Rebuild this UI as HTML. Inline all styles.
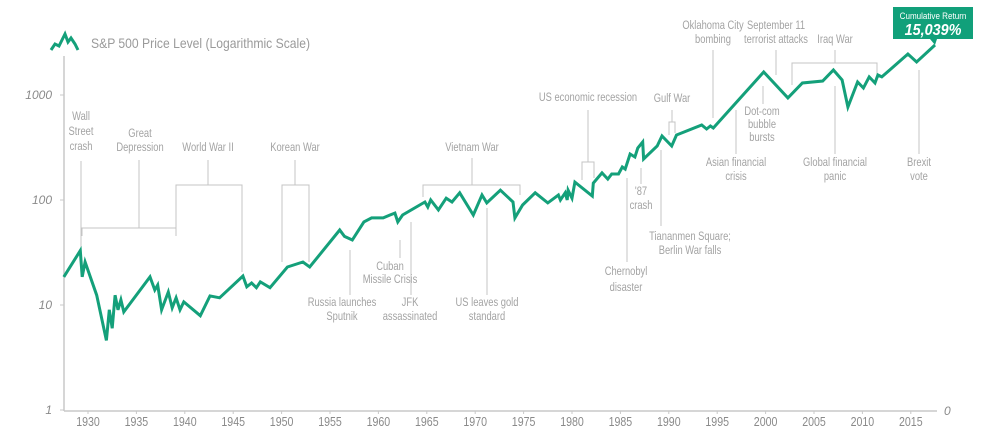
<!DOCTYPE html>
<html><head><meta charset="utf-8"><style>
body{margin:0;background:#fff;}
svg{display:block;font-family:"Liberation Sans Narrow","Liberation Sans",sans-serif;}
.ann{fill:#a3a3a3;font-size:12px;text-anchor:middle;}
.ln{stroke:#c4c4c4;stroke-width:1;fill:none;}
.tk{fill:#8a8a8a;font-size:12px;font-style:italic;}
</style></head><body>
<svg id="chart" width="1000" height="437" viewBox="0 0 1000 437">
<g id="axes"></g>
<g id="annotations"></g>
<g id="series"></g>
<g>
<path d="M51,50 L55,44 L59,46 L62,40 L65,34 L68,42 L71,38 L75,44 L78,50" stroke="#14a07a" stroke-width="3" fill="none"/>
<text transform="translate(91,48) scale(0.9,1)" fill="#9a9a9a" font-size="13.5">S&amp;P 500 Price Level (Logarithmic Scale)</text>
</g>
<g>
<rect x="893" y="7" width="80" height="32" fill="#11a07a"/>
<path d="M930,39 L935,45 L937,39 Z" fill="#11a07a"/>
<text transform="translate(933,19) scale(0.85,1)" fill="#fff" font-size="9.5" text-anchor="middle">Cumulative Return</text>
<text transform="translate(933,35) scale(0.9,1)" fill="#fff" font-size="16" font-weight="bold" font-style="italic" text-anchor="middle">15,039%</text>
</g>
</svg>
<script>
const years=[1927.5,1929.2,1929.4,1929.7,1930.9,1931.9,1932.2,1932.5,1932.8,1933.1,1933.4,1933.7,1936.4,1936.9,1937.2,1937.6,1938.3,1938.7,1939.1,1939.5,1939.9,1941.6,1942.6,1943.6,1946,1946.4,1946.9,1947.4,1947.8,1948.8,1950.6,1952.2,1952.9,1956,1956.5,1957.3,1958.5,1959.3,1960.5,1961.2,1961.7,1962,1962.5,1964.8,1965.1,1965.4,1966.2,1967,1967.6,1968.4,1969.8,1970.7,1971.2,1972.6,1973.9,1974.1,1974.9,1976.2,1977.5,1978.6,1978.8,1979.3,1979.5,1979.6,1980,1980.3,1982.1,1982.2,1983.1,1983.7,1984.1,1984.8,1985.2,1985.5,1986,1986.5,1986.8,1987.3,1987.4,1988.8,1989.3,1990.3,1990.8,1993.4,1993.9,1994.3,1994.6,1999.8,2002.3,2003.8,2005.9,2007,2007.9,2008.5,2009.5,2010.1,2010.7,2011.3,2011.6,2012,2014.7,2015.6,2017.5];
const prices=[18.5,33,18.5,25.7,12.4,4.6,9,6,12.4,9,11.2,8.6,18.5,13.9,15.5,9,13.3,9.4,11.7,9,10.7,7.9,12.2,11.7,18.9,14.9,16.2,14.6,16.6,14.6,23,25.7,23,51.8,45,41.6,61.8,67.5,67.5,72,75,61.8,72,95.7,85.7,100,80.4,104,95.7,117,72,111.6,93.8,124,95.7,67.5,89.7,117,93.8,111.6,100,117,100,124,104,148,109,145,181,158,177,177,206,197,274,257,313,357,246,327,407,327,416,518,474,507,485,1656,938,1300,1358,1729,1390,769,1330,1167,1486,1300,1549,1486,2460,2061,2992];
const xTicks=[1930,1935,1940,1945,1950,1955,1960,1965,1970,1975,1980,1985,1990,1995,2000,2005,2010,2015];
const yTicks=[1,10,100,1000];
const NS="http://www.w3.org/2000/svg";
const xS=y=>88+(y-1930)*9.68;
const yS=v=>410-Math.log10(v)*105;
function mk(tag,attrs,parent){const e=document.createElementNS(NS,tag);for(const k in attrs)e.setAttribute(k,attrs[k]);parent.appendChild(e);return e;}
const ax=document.getElementById('axes');
let a=mk('line',{x1:64,y1:56,x2:64,y2:411,stroke:'#c8c8c8','stroke-width':1.5},ax);


a=mk('line',{x1:64,y1:411,x2:937,y2:411,stroke:'#c8c8c8','stroke-width':1.5},ax);


yTicks.forEach(v=>{const t=mk('text',{x:52,y:yS(v)+4,'text-anchor':'end',class:'tk'},ax);t.textContent=v;


const l=mk('line',{x1:60,x2:64,y1:yS(v),y2:yS(v),stroke:'#c8c8c8'},ax);

});
xTicks.forEach(y=>{const t=mk('text',{transform:'translate('+xS(y)+',426) scale(0.85,1)','text-anchor':'middle',fill:'#8a8a8a','font-size':'12.5'},ax);t.textContent=y;


const l=mk('line',{x1:xS(y),x2:xS(y),y1:411,y2:414,stroke:'#c8c8c8'},ax);

});
const z=mk('text',{x:944,y:415,class:'tk'},ax);z.textContent='0';


const an=document.getElementById('annotations');
const anns=[
[81,[120,135,150],['Wall','Street','crash'],'M81,161V262'],
[140,[137,151],['Great','Depression'],'M139,160V228M82,236V228H176V236'],
[208,[151],['World War II'],'M208,160V185M176,228V185H242V272'],
[295,[151],['Korean War'],'M295,160V185M282,262V185H309V262'],
[472,[151],['Vietnam War'],'M472,158V185M423,197V185H520V195'],
[342,[306,320],['Russia launches','Sputnik'],'M350,250V295'],
[390,[270,283],['Cuban','Missile Crisis'],'M400,240V258'],
[410,[306,320],['JFK','assassinated'],'M411,222V295'],
[487,[306,320],['US leaves gold','standard'],'M487,208V295'],
[588,[101],['US economic recession'],'M588,110V162M582,180V162H594V178'],
[641,[195,209],["'87",'crash'],'M641,168V184'],
[672,[102],['Gulf War'],'M672,110V122M669,135V122H675V133'],
[626,[275,291],['Chernobyl','disaster'],'M627,178V262'],
[690,[240,254],['Tiananmen Square;','Berlin War falls'],'M661,150V226'],
[713,[29,43],['Oklahoma City','bombing'],'M713,50V118'],
[776,[29,43],['September 11','terrorist attacks'],'M776,50V75'],
[835,[43],['Iraq War'],'M835,50V63M792,85V63H877V80'],
[762,[115,128,141],['Dot-com','bubble','bursts'],'M763,86V104'],
[736,[166,180],['Asian financial','crisis'],'M736,110V154'],
[835,[166,180],['Global financial','panic'],'M835,86V154'],
[919,[166,180],['Brexit','vote'],'M919,70V154']];
anns.forEach(([x,ys,lines,d])=>{
const p=mk('path',{d:d,class:'ln'},an);


lines.forEach((s,i)=>{const t=mk('text',{transform:'translate('+x+','+ys[i]+') scale(0.78,1)',class:'ann'},an);t.textContent=s;

});});
const sr=document.getElementById('series');
const pl=mk('polyline',{points:years.map((y,i)=>xS(y).toFixed(1)+','+yS(prices[i]).toFixed(1)).join(' '),fill:'none',stroke:'#14a07a','stroke-width':3,'stroke-linejoin':'miter'},sr);


</script>
</body></html>
